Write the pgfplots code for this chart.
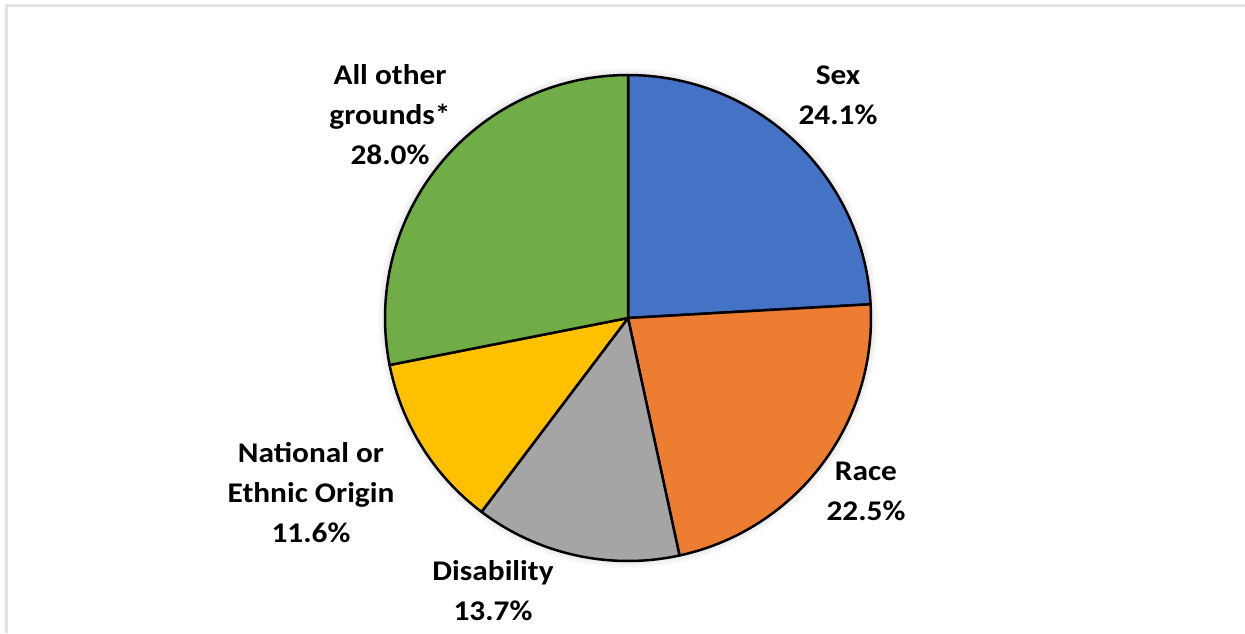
\documentclass[border=0pt]{standalone}
\usepackage{pgfplots}
\pgfplotsset{compat=1.18}
\usepackage{fontspec}
\setmainfont{Carlito}[FakeStretch=1.1]
\definecolor{cBlue}{HTML}{4472C4}
\definecolor{cOrange}{HTML}{ED7D31}
\definecolor{cGray}{HTML}{A5A5A5}
\definecolor{cYellow}{HTML}{FFC000}
\definecolor{cGreen}{HTML}{70AD47}
\definecolor{frame}{HTML}{E3E3E3}
\tikzset{lbl/.style={font=\bfseries\fontsize{28.5}{40}\selectfont, align=center, text=black, inner sep=0pt}}
\begin{document}
\begin{tikzpicture}
\begin{axis}[
  width=1245pt, height=633pt, scale only axis,
  xmin=0, xmax=1245, ymin=0, ymax=633,
  hide axis, clip=true,
]
% frame
\draw[frame, line width=3pt] (6.5,0) -- (6.5,627.5) -- (1245,627.5);
% soft shadow
\foreach \r in {244,246,248,250} {
  \edef\tmp{\noexpand\addplot[draw=none, fill=black, fill opacity=0.025, domain=0:360, samples=120] ({628+\r*cos(x)},{315+\r*sin(x)}) -- cycle;}
  \tmp
}
% slices: Sex 24.1, Race 22.5, Disability 13.7, National 11.6, Other 28.0 (clockwise from 90 deg)
\addplot[fill=cBlue, draw=black, line width=2.5pt, line join=round, domain=3.24:90, samples=60] ({628+243*cos(x)},{315+243*sin(x)}) -- (628,315) -- cycle;
\addplot[fill=cOrange, draw=black, line width=2.5pt, line join=round, domain=-77.76:3.24, samples=60] ({628+243*cos(x)},{315+243*sin(x)}) -- (628,315) -- cycle;
\addplot[fill=cGray, draw=black, line width=2.5pt, line join=round, domain=-127.08:-77.76, samples=40] ({628+243*cos(x)},{315+243*sin(x)}) -- (628,315) -- cycle;
\addplot[fill=cYellow, draw=black, line width=2.5pt, line join=round, domain=-168.84:-127.08, samples=40] ({628+243*cos(x)},{315+243*sin(x)}) -- (628,315) -- cycle;
\addplot[fill=cGreen, draw=black, line width=2.5pt, line join=round, domain=-270:-168.84, samples=70] ({628+243*cos(x)},{315+243*sin(x)}) -- (628,315) -- cycle;
% labels
\node[lbl] at (838,538) {Sex\\24.1\%};
\node[lbl] at (866,142) {Race\\22.5\%};
\node[lbl] at (493,42) {Disability\\13.7\%};
\node[lbl] at (311,140) {National or\\Ethnic Origin\\11.6\%};
\node[lbl] at (390,518) {All other\\grounds*\\28.0\%};
\end{axis}
\pgfresetboundingbox
\useasboundingbox (current axis.south west) rectangle (current axis.north east);
\end{tikzpicture}
\end{document}
